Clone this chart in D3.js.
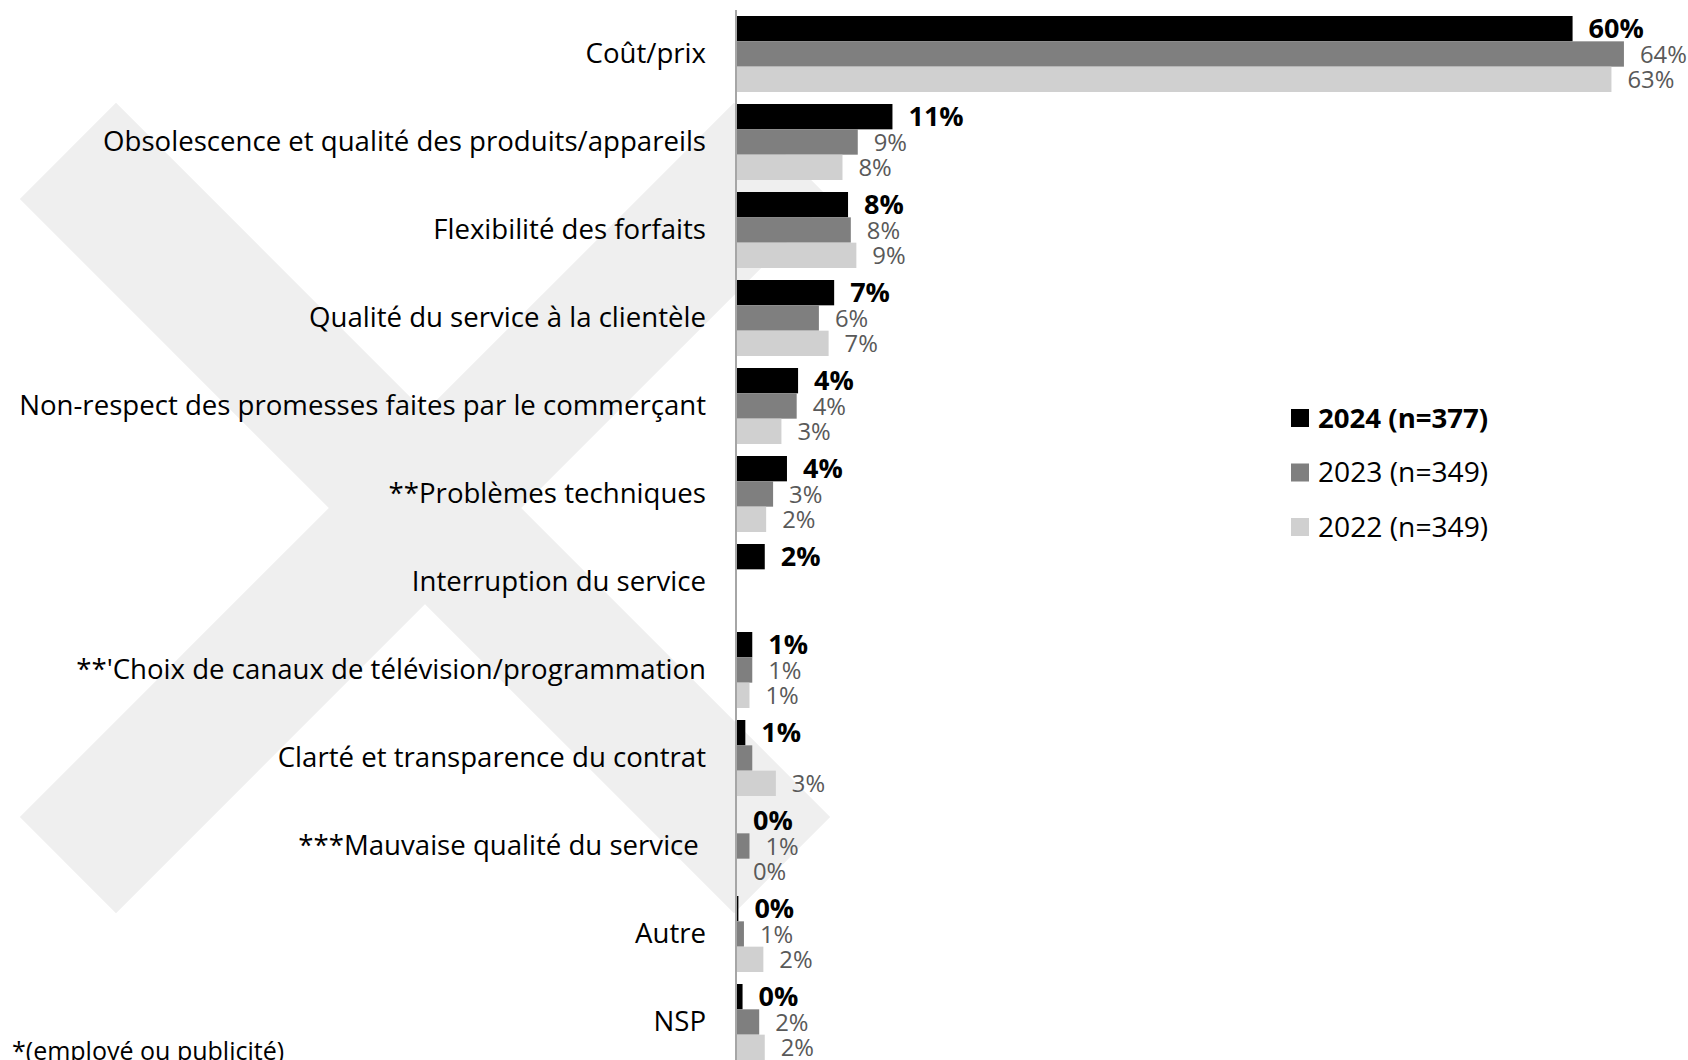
<!DOCTYPE html>
<html lang="fr">
<head>
<meta charset="utf-8">
<script src="https://cdn.jsdelivr.net/npm/d3@7"></script>
<style>
  html, body { margin: 0; padding: 0; background: #ffffff; }
  svg { display: block; font-family: "Open Sans", "Noto Sans", sans-serif; }
</style>
</head>
<body>
<svg id="chart" width="1688" height="1060"></svg>
<script>
// Raisons de changement de fournisseur, par année de sondage (%)
const categories = [
  "Coût/prix",
  "Obsolescence et qualité des produits/appareils",
  "Flexibilité des forfaits",
  "Qualité du service à la clientèle",
  "Non-respect des promesses faites par le commerçant",
  "**Problèmes techniques",
  "Interruption du service",
  "**'Choix de canaux de télévision/programmation",
  "Clarté et transparence du contrat",
  "***Mauvaise qualité du service ",
  "Autre",
  "NSP"
];

const years = ["2024", "2023", "2022"];
const legendLabels = ["2024 (n=377)", "2023 (n=349)", "2022 (n=349)"];
const yearColors = ["#000000", "#7f7f7f", "#d0d0d0"];

const values2024 = [60.2, 11.2, 8.0, 7.0, 4.4, 3.6, 2.0, 1.1, 0.6, 0.0, 0.1, 0.4];
const values2023 = [63.9, 8.7, 8.2, 5.9, 4.3, 2.6, null, 1.1, 1.1, 0.9, 0.5, 1.6];
const values2022 = [63.0, 7.6, 8.6, 6.6, 3.2, 2.1, null, 0.9, 2.8, 0.0, 1.9, 2.0];

// Étiquettes de valeur non affichées (catégorie, année)
const hiddenLabels = [["Clarté et transparence du contrat", "2023"]];

const footnote = "*(employé ou publicité)";

// ---------------------------------------------------------------
const seriesValues = [values2024, values2023, values2022];
const rows = [];
categories.forEach((cat, i) => {
  years.forEach((yr, j) => {
    const v = seriesValues[j][i];
    if (v === null) return;
    rows.push({
      category: cat, year: yr, value: v, series: j,
      hideLabel: hiddenLabels.some(h => h[0] === cat && h[1] === yr)
    });
  });
});

const svg = d3.select("#chart");

const x0 = 737;
const x = d3.scaleLinear().domain([0, 100]).range([x0, x0 + 1388]);

const y = d3.scaleBand()
  .domain(categories)
  .range([10, 1066])
  .paddingInner(12 / 88)
  .paddingOuter(6 / 88);

const ySub = d3.scaleBand()
  .domain(years)
  .range([0, y.bandwidth()]);

const color = d3.scaleOrdinal().domain(years).range(yearColors);

// Filigrane en forme de X, derrière le graphique
const mark = svg.append("g")
  .attr("class", "watermark")
  .attr("transform", "translate(425,508)");
[45, -45].forEach(angle => {
  mark.append("rect")
    .attr("x", -505).attr("y", -68)
    .attr("width", 1010).attr("height", 136)
    .attr("transform", `rotate(${angle})`)
    .attr("fill", "#efefef");
});

// Barres
svg.append("g").attr("class", "bars")
  .selectAll("rect")
  .data(rows)
  .join("rect")
  .attr("x", x(0))
  .attr("y", d => y(d.category) + ySub(d.year))
  .attr("width", d => x(d.value) - x(0))
  .attr("height", ySub.bandwidth())
  .attr("fill", d => color(d.year));

// Axe vertical des catégories
const axis = svg.append("g")
  .attr("class", "y-axis")
  .attr("transform", `translate(${x0 - 1},0)`)
  .call(d3.axisLeft(y).tickSize(0).tickPadding(30));
axis.select(".domain")
  .attr("d", "M0,10V1060")
  .attr("stroke", "#a6a6a6")
  .attr("stroke-width", 2);
axis.selectAll(".tick text")
  .attr("font-family", "\"Open Sans\", sans-serif")
  .attr("font-size", 27.6)
  .attr("fill", "#000000")
  .attr("dy", "0.34em")
  .style("white-space", "pre");

// Étiquettes de valeur
const fmt = v => d3.format(".0f")(v) + "%";
svg.append("g").attr("class", "value-labels")
  .selectAll("text")
  .data(rows.filter(d => !d.hideLabel))
  .join("text")
  .attr("x", d => x(d.value) + 16)
  .attr("y", d => y(d.category) + ySub(d.year) + ySub.bandwidth() / 2)
  .attr("dy", "0.36em")
  .attr("font-size", d => d.series === 0 ? 27 : 23.8)
  .attr("font-weight", d => d.series === 0 ? 700 : 400)
  .attr("fill", d => d.series === 0 ? "#000000" : "#595959")
  .text(d => fmt(d.value));

// Légende
const legend = svg.append("g").attr("class", "legend")
  .attr("transform", "translate(1291,418)");
const item = legend.selectAll("g")
  .data(years)
  .join("g")
  .attr("transform", (d, i) => `translate(0,${i * 54.5})`);
item.append("rect")
  .attr("x", 0).attr("y", -9)
  .attr("width", 18).attr("height", 18)
  .attr("fill", d => color(d));
item.append("text")
  .attr("x", 27)
  .attr("dy", "0.35em")
  .attr("font-size", (d, i) => i === 0 ? 27.6 : 28.2)
  .attr("font-weight", (d, i) => i === 0 ? 700 : 400)
  .attr("fill", "#000000")
  .text((d, i) => legendLabels[i]);

// Note de bas de page
svg.append("text")
  .attr("x", 12)
  .attr("y", 1060)
  .attr("font-size", 25)
  .attr("fill", "#000000")
  .text(footnote);
</script>
</body>
</html>
